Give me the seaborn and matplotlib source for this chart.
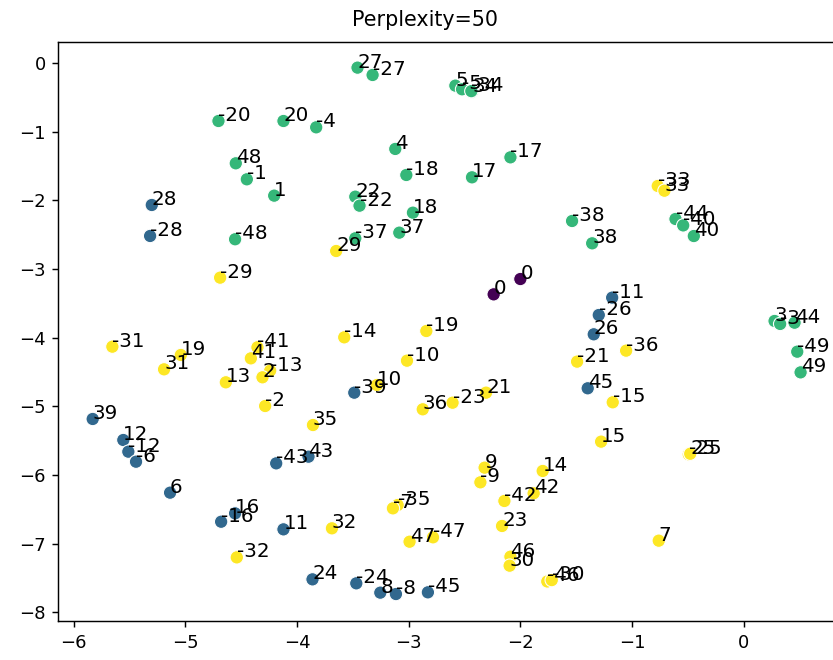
import matplotlib
matplotlib.use("Agg")
import matplotlib.pyplot as plt
import seaborn as sns
import pandas as pd

# point labels
labels = ["0", "0",
          "-20", "20", "-4", "4", "48", "-48", "-1", "1", "27", "-27",
          "5", "-5", "34", "-34", "-18", "18", "17", "-17", "22", "-22",
          "37", "-37", "-38", "38", "-44", "-40", "40", "3", "-3", "44",
          "-49", "49",
          "28", "-28", "39", "-39", "12", "-12", "-6", "6", "16", "-16",
          "11", "-11", "43", "-43", "24", "-24", "8", "-8", "-45", "45",
          "-26", "26",
          "-33", "33", "-29", "29", "-31", "31", "19", "-19", "-41", "41",
          "-13", "13", "2", "-2", "-14", "14", "-10", "10", "36", "-36",
          "-23", "23", "21", "-21", "35", "-35", "-7", "7", "-15", "15",
          "-25", "25", "32", "-32", "47", "-47", "9", "-9", "-42", "42",
          "46", "-46", "30", "-30"]

# t-SNE coordinates (component 1)
x_vals = [-2.240, -2.001,
          -4.704, -4.122, -3.829, -3.121, -4.549, -4.555, -4.450, -4.205, -3.459, -3.324,
          -2.583, -2.523, -2.434, -2.440, -3.022, -2.963, -2.434, -2.090, -3.479, -3.441,
          -3.085, -3.479, -1.538, -1.358, -0.612, -0.543, -0.448, 0.275, 0.325, 0.454,
          0.478, 0.508,
          -5.301, -5.316, -5.830, -3.488, -5.556, -5.511, -5.442, -5.137, -4.555, -4.680,
          -4.122, -1.179, -3.898, -4.187, -3.862, -3.470, -3.255, -3.115, -2.829, -1.398,
          -1.299, -1.344,
          -0.771, -0.711, -4.689, -3.650, -5.654, -5.191, -5.041, -2.843, -4.355, -4.414,
          -4.241, -4.638, -4.310, -4.286, -3.578, -1.801, -3.016, -3.285, -2.875, -1.054,
          -2.608, -2.165, -2.308, -1.493, -3.858, -3.100, -3.142, -0.762, -1.174, -1.278,
          -0.493, -0.480, -3.688, -4.540, -2.993, -2.783, -2.321, -2.359, -2.144, -1.882,
          -2.090, -1.760, -2.097, -1.720]

# t-SNE coordinates (component 2)
y_vals = [-3.369, -3.146,
          -0.845, -0.845, -0.937, -1.252, -1.461, -2.567, -1.694, -1.932, -0.068, -0.175,
          -0.330, -0.383, -0.418, -0.410, -1.631, -2.180, -1.665, -1.374, -1.947, -2.078,
          -2.471, -2.553, -2.301, -2.626, -2.272, -2.365, -2.520, -3.757, -3.800, -3.782,
          -4.204, -4.505,
          -2.068, -2.519, -5.184, -4.801, -5.490, -5.660, -5.806, -6.257, -6.558, -6.680,
          -6.791, -3.417, -5.733, -5.830, -7.519, -7.577, -7.713, -7.733, -7.708, -4.737,
          -3.670, -3.951,
          -1.791, -1.860, -3.126, -2.738, -4.131, -4.461, -4.252, -3.903, -4.140, -4.301,
          -4.480, -4.650, -4.577, -4.995, -3.995, -5.941, -4.335, -4.689, -5.043, -4.189,
          -4.947, -6.742, -4.801, -4.349, -5.272, -6.437, -6.485, -6.956, -4.941, -5.514,
          -5.699, -5.690, -6.776, -7.199, -6.971, -6.907, -5.893, -6.106, -6.378, -6.266,
          -7.189, -7.550, -7.320, -7.530]

# class of each point (colour)
classes = [0, 0,
           2, 2, 2, 2, 2, 2, 2, 2, 2, 2,
           2, 2, 2, 2, 2, 2, 2, 2, 2, 2,
           2, 2, 2, 2, 2, 2, 2, 2, 2, 2,
           2, 2,
           1, 1, 1, 1, 1, 1, 1, 1, 1, 1,
           1, 1, 1, 1, 1, 1, 1, 1, 1, 1,
           1, 1,
           3, 3, 3, 3, 3, 3, 3, 3, 3, 3,
           3, 3, 3, 3, 3, 3, 3, 3, 3, 3,
           3, 3, 3, 3, 3, 3, 3, 3, 3, 3,
           3, 3, 3, 3, 3, 3, 3, 3, 3, 3,
           3, 3, 3, 3]

title = "Perplexity=50"

df = pd.DataFrame({"x": x_vals, "y": y_vals, "cls": classes, "label": labels})

DPI = 130
W, H = 833, 660
ax_left, ax_right, ax_top, ax_bottom = 58.3, 836.0, 42.3, 621.3
fig = plt.figure(figsize=(W / DPI, H / DPI), dpi=DPI)
ax = fig.add_axes([ax_left / W, (H - ax_bottom) / H,
                   (ax_right - ax_left) / W, (ax_bottom - ax_top) / H])

sns.scatterplot(data=df, x="x", y="y", hue="cls", palette="viridis",
                s=55, legend=False, ax=ax)

for _, r in df.iterrows():
    ax.annotate(r["label"], (r["x"], r["y"]), fontsize=11, color="black")

ax.set_xlim(-6.138, 0.825)
ax.set_ylim(-8.13, 0.301)
ax.set_xlabel("")
ax.set_ylabel("")
ax.set_title(title, fontsize=11.4, pad=9,
             x=(425 - ax_left) / (ax_right - ax_left))

fig.savefig("out.png", dpi=DPI)
